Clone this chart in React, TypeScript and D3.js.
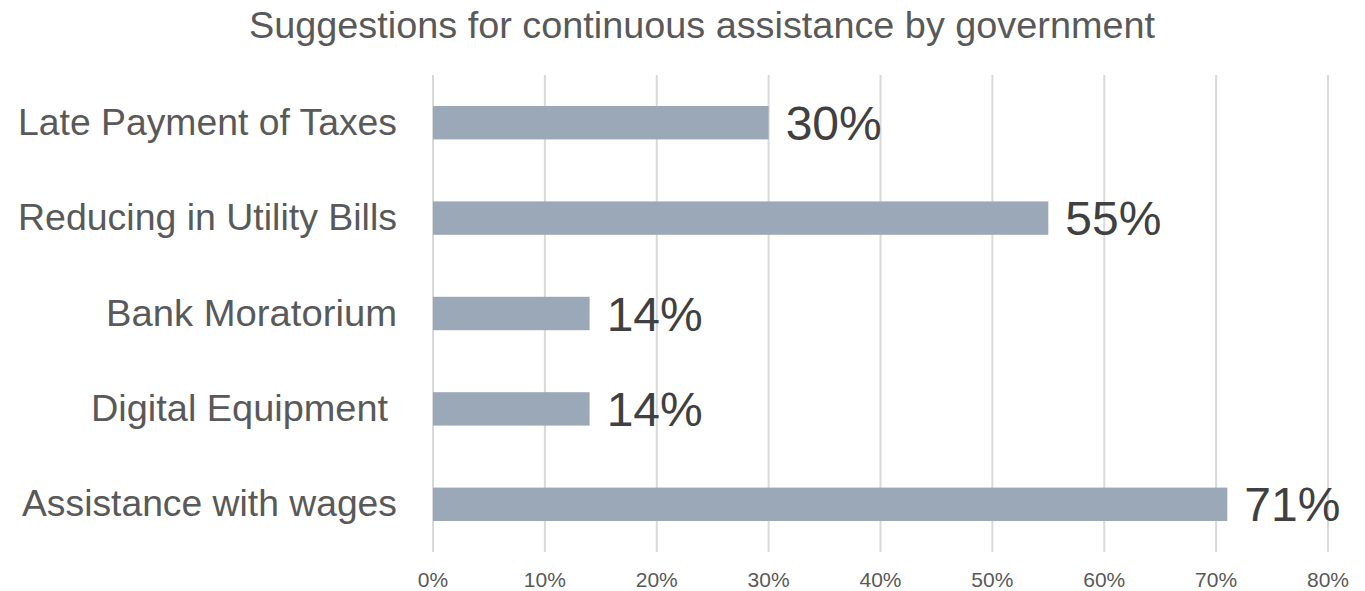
import React from "react";
import * as d3 from "d3";

const categories = [
  "Late Payment of Taxes",
  "Reducing in Utility Bills",
  "Bank Moratorium",
  "Digital Equipment ",
  "Assistance with wages",
];
const values = [0.30, 0.55, 0.14, 0.14, 0.71];
const ticks = [0, 0.1, 0.2, 0.3, 0.4, 0.5, 0.6, 0.7, 0.8];
const title = "Suggestions for continuous assistance by government";

// layout-only: rendered widths of category labels to mimic the reference font
const labelWidths = [379, 379, 291, 297, 375];

const W = 1365;
const H = 591;
const FONT = "'Liberation Sans', Arial, sans-serif";

export default function App() {
  const x = d3.scaleLinear().domain([0, 0.8]).range([433, 1328]);
  const y = d3.scaleBand<string>().domain(categories).range([75, 552]).paddingInner(0.65).paddingOuter(0.325);
  const fmt = d3.format(".0%");
  return (
    <svg width={W} height={H} style={{ position: "absolute", left: 0, top: 0, background: "#fff" }} fontFamily={FONT}>
      <text x={249} y={38} fontSize={36} fill="#595959" textLength={906} lengthAdjust="spacingAndGlyphs">{title}</text>
      {ticks.map((t) => (
        <g key={t}>
          <line x1={x(t)} x2={x(t)} y1={75} y2={552} stroke="#d9d9d9" strokeWidth={2} />
          <text x={x(t)} y={587} textAnchor="middle" fontSize={21} fill="#595959">{fmt(t)}</text>
        </g>
      ))}
      {categories.map((c, i) => {
        const cy = (y(c) as number) + y.bandwidth() / 2;
        const label = c.trim();
        const trailing = c !== label ? 9 : 0;
        return (
          <g key={c}>
            <rect x={x(0)} y={y(c)} width={x(values[i]) - x(0)} height={y.bandwidth()} fill="#9ba8b7" />
            <text x={397 - trailing - labelWidths[i]} y={cy + 12} fontSize={36} fill="#595959" textLength={labelWidths[i]} lengthAdjust="spacingAndGlyphs">{label}</text>
            <text x={x(values[i]) + 17} y={cy + 17} fontSize={48} fill="#404040">{fmt(values[i])}</text>
          </g>
        );
      })}
    </svg>
  );
}
